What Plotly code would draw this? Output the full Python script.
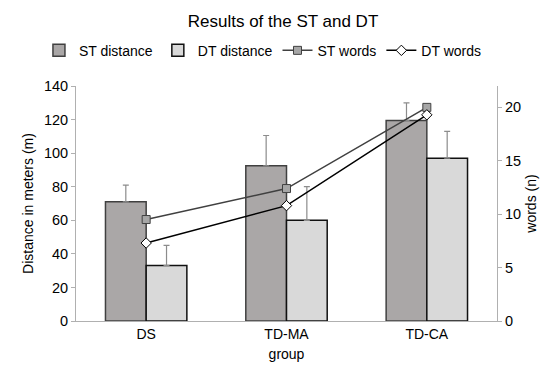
import plotly.graph_objects as go

groups = ["DS", "TD-MA", "TD-CA"]
st_distance = [71, 92.5, 119.5]
st_distance_err = [10, 18, 10.5]
dt_distance = [33, 60, 97]
dt_distance_err = [12, 20, 16]
st_words = [9.5, 12.4, 20.0]
dt_words = [7.3, 10.8, 19.3]

font = "Arial"

fig = go.Figure()
fig.add_trace(go.Bar(
    x=groups, y=st_distance, name="ST distance",
    marker=dict(color="#aaa7a7", line=dict(color="#404040", width=1.5)),
    error_y=dict(type="data", array=st_distance_err, arrayminus=[0, 0, 0],
                 symmetric=False, color="#8c8c8c", thickness=1.2, width=3),
))
fig.add_trace(go.Bar(
    x=groups, y=dt_distance, name="DT distance",
    marker=dict(color="#d9d9d9", line=dict(color="#111111", width=1.5)),
    error_y=dict(type="data", array=dt_distance_err, arrayminus=[0, 0, 0],
                 symmetric=False, color="#8c8c8c", thickness=1.2, width=3),
))
fig.add_trace(go.Scatter(
    x=groups, y=st_words, name="ST words", yaxis="y2", mode="lines+markers",
    line=dict(color="#404040", width=1.5),
    marker=dict(symbol="square", size=8, color="#a6a6a6", line=dict(color="#404040", width=1)),
))
fig.add_trace(go.Scatter(
    x=groups, y=dt_words, name="DT words", yaxis="y2", mode="lines+markers",
    line=dict(color="#000000", width=1.5),
    marker=dict(symbol="diamond", size=8, color="#ffffff", line=dict(color="#000000", width=1)),
))

fig.update_layout(
    width=550, height=368,
    margin=dict(l=68, r=61, t=78, b=55, autoexpand=False),
    paper_bgcolor="white", plot_bgcolor="white",
    font=dict(family=font, size=14, color="#000000"),
    title=dict(text="Results of the ST and DT", x=0.5, xanchor="center",
               y=0.965, yanchor="middle", font=dict(size=17)),
    barmode="group", bargap=0.42, bargroupgap=0,
    showlegend=True,
    legend=dict(orientation="h", x=-0.088, xanchor="left",
                y=1.15, yanchor="middle", font=dict(size=14), traceorder="normal",
                itemwidth=30, tracegroupgap=0),
    xaxis=dict(title=dict(text="group", standoff=8, font=dict(size=14)), showline=True,
               linecolor="#b0b0b0", linewidth=1, ticks="", showgrid=False,
               tickfont=dict(size=14), tickangle=0),
    yaxis=dict(title=dict(text="Distance in meters (m)", standoff=6, font=dict(size=14)),
               range=[0, 140], dtick=20,
               showline=True, linecolor="#b0b0b0", linewidth=1, ticks="outside",
               ticklen=4, tickcolor="#b0b0b0", showgrid=False, zeroline=False,
               tickfont=dict(size=14.5)),
    yaxis2=dict(title=dict(text="words (n)", standoff=6, font=dict(size=14)),
                overlaying="y", side="right",
                range=[0, 22], tickvals=[0, 5, 10, 15, 20],
                showline=True, linecolor="#b0b0b0", linewidth=1, ticks="outside",
                ticklen=4, tickcolor="#b0b0b0", showgrid=False, zeroline=False,
                tickfont=dict(size=14.5)),
)

fig.write_html("out.html")
